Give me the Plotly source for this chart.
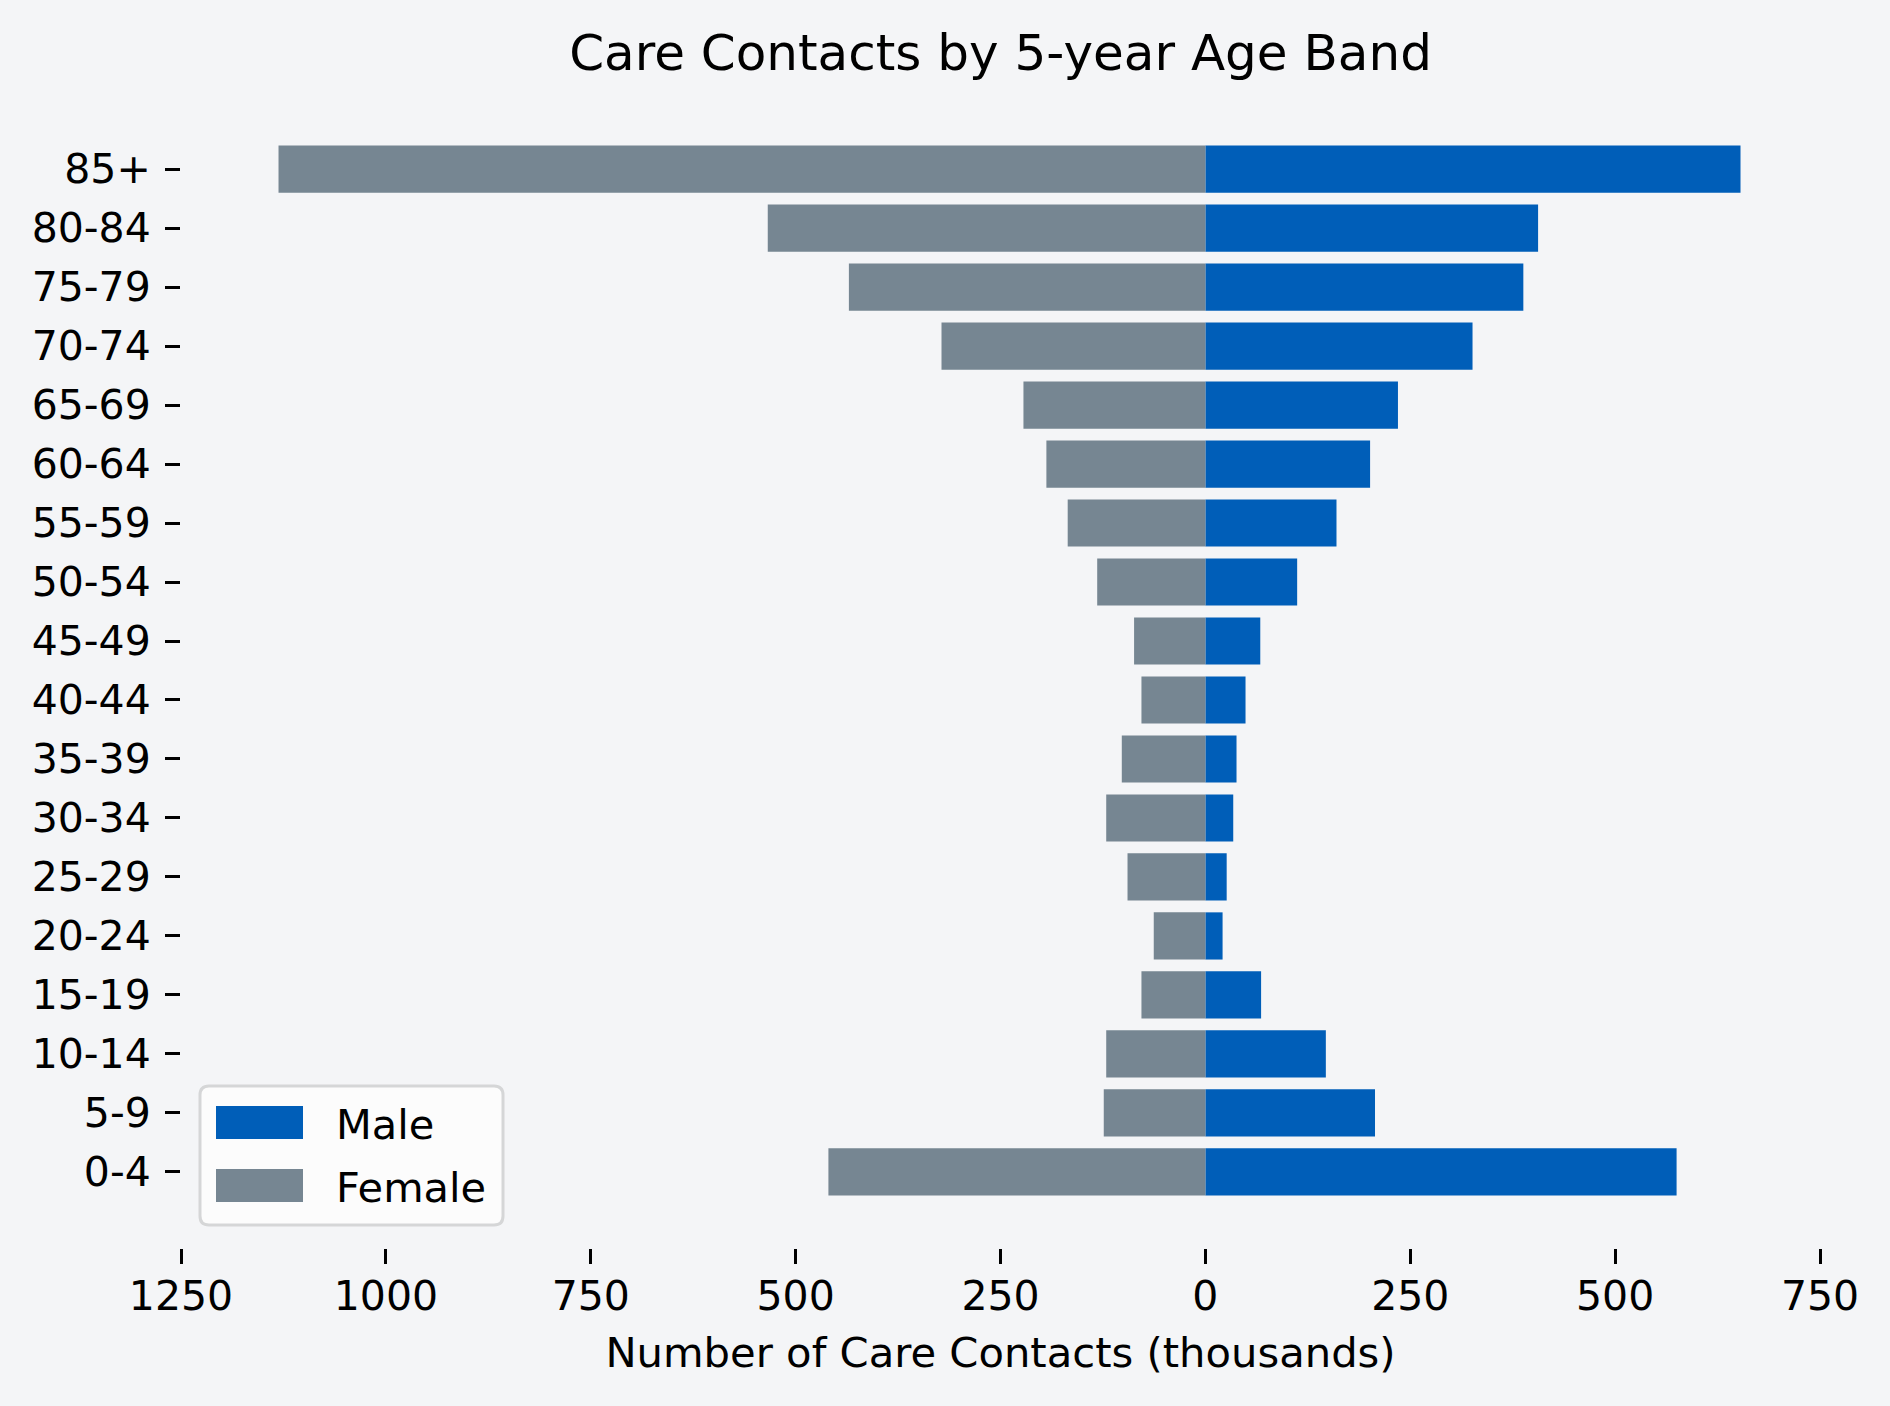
import plotly.graph_objects as go

age_bands = ["0-4", "5-9", "10-14", "15-19", "20-24", "25-29", "30-34", "35-39",
             "40-44", "45-49", "50-54", "55-59", "60-64", "65-69", "70-74",
             "75-79", "80-84", "85+"]
male = [575, 207, 147, 68, 21, 26, 34, 38, 49, 67, 112, 160, 201, 235, 326, 388, 406, 653]
female = [460, 124, 121, 78, 63, 95, 121, 102, 78, 87, 132, 168, 194, 222, 322, 435, 534, 1131]
x_ticks = [-1250, -1000, -750, -500, -250, 0, 250, 500, 750]
x_ticktext = ["1250", "1000", "750", "500", "250", "0", "250", "500", "750"]

MALE_C = "#005EB8"
FEMALE_C = "#768692"
BG = "#f4f5f7"
FONT = "DejaVu Sans"
FS = 41

W, H = 1890, 1406
L, R, T, B = 181, 70, 93, 158
pw, ph = W - L - R, H - T - B

def px(x):
    return (x - L) / pw

def py(y):
    return (H - B - y) / ph

fig = go.Figure()
fig.add_trace(go.Bar(y=age_bands, x=male, orientation="h", name="Male",
                     marker=dict(color=MALE_C, line=dict(width=0)), width=0.8,
                     showlegend=False))
fig.add_trace(go.Bar(y=age_bands, x=[-v for v in female], orientation="h", name="Female",
                     marker=dict(color=FEMALE_C, line=dict(width=0)), width=0.8,
                     showlegend=False))

# legend (drawn manually to match the large patches of the reference)
bx0, bx1, by0, by1 = px(200), px(503), py(1225), py(1086)
rx, ry = 9 / pw, 9 / ph
path = (f"M {bx0+rx},{by1} L {bx1-rx},{by1} Q {bx1},{by1} {bx1},{by1-ry} "
        f"L {bx1},{by0+ry} Q {bx1},{by0} {bx1-rx},{by0} L {bx0+rx},{by0} "
        f"Q {bx0},{by0} {bx0},{by0+ry} L {bx0},{by1-ry} Q {bx0},{by1} {bx0+rx},{by1} Z")
shapes = [dict(type="path", xref="paper", yref="paper", path=path,
               fillcolor="#fcfcfc", line=dict(color="#d5d6d7", width=3))]
annotations = []
for name, col, yc in [("Male", MALE_C, 1122.5), ("Female", FEMALE_C, 1185.5)]:
    shapes.append(dict(type="rect", xref="paper", yref="paper",
                       x0=px(216), x1=px(303), y0=py(yc + 16.5), y1=py(yc - 16.5),
                       fillcolor=col, line=dict(width=0)))
    annotations.append(dict(text=name, xref="paper", yref="paper", x=px(334), y=py(yc + 2),
                            xanchor="left", yanchor="middle", showarrow=False,
                            font=dict(family=FONT, size=41.5, color="black")))

fig.update_layout(
    width=W, height=H,
    margin=dict(l=L, r=R, t=T, b=B, pad=0),
    paper_bgcolor=BG, plot_bgcolor=BG,
    barmode="relative", bargap=0.2,
    font=dict(family=FONT, size=FS, color="black"),
    title=dict(text="Care Contacts by 5-year Age Band", x=0.5, xref="paper",
               xanchor="center", y=1 - 52 / H, yref="container", yanchor="middle",
               font=dict(family=FONT, size=50, color="black")),
    xaxis=dict(range=[-1250, 750], tickvals=x_ticks, ticktext=x_ticktext,
               showgrid=False, zeroline=False, showline=False,
               ticks="outside", ticklen=15, tickwidth=3, tickcolor="black",
               ticklabelstandoff=-3,
               title=dict(text="Number of Care Contacts (thousands)", standoff=18,
                          font=dict(family=FONT, size=41.7)),
               tickfont=dict(family=FONT, size=FS)),
    yaxis=dict(type="category", categoryorder="array", categoryarray=age_bands,
               range=[-1.29, 18.29], showgrid=False, zeroline=False, showline=False,
               ticks="outside", ticklen=15, tickwidth=3, tickcolor="black",
               ticklabelstandoff=6,
               tickfont=dict(family=FONT, size=FS)),
    shapes=shapes, annotations=annotations,
)

fig.write_html(
    "out.html",
    config={"displayModeBar": False},
    post_script="document.body.style.margin='0';document.body.style.background='#f4f5f7';",
)
